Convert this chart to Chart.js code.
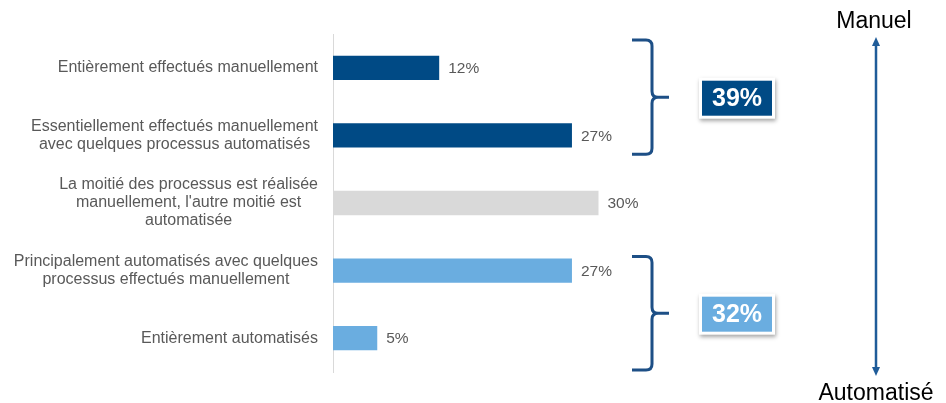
<!DOCTYPE html>
<html lang="fr">
<head>
<meta charset="utf-8">
<title>Degré d'automatisation des processus</title>
<script src="https://cdn.jsdelivr.net/npm/chart.js@4.4.1/dist/chart.umd.min.js"></script>
<style>
  html, body { margin: 0; padding: 0; background: #fff; }
  #wrap { width: 946px; height: 403px; }
</style>
</head>
<body>
<div id="wrap"><canvas id="chart" width="946" height="403"></canvas></div>
<script>
const categories = [
    ['Entièrement effectués manuellement'],
    ['Essentiellement effectués manuellement', 'avec quelques processus automatisés'],
    ['La moitié des processus est réalisée', "manuellement, l'autre moitié est", 'automatisée'],
    ['Principalement automatisés avec quelques', 'processus effectués manuellement'],
    ['Entièrement automatisés']
];
const values = [12, 27, 30, 27, 5];
const groupLabels = ['39%', '32%'];
const groupMembers = [[0, 1], [3, 4]];
const axisEnds = ['Manuel', 'Automatisé'];

const DARK = '#004a85';
const LIGHT = '#6aade0';
const GREY_BAR = '#d9d9d9';
const TEXT = '#595959';
const BRACE = '#1d4f86';
const FONT = '"Liberation Sans", Arial, sans-serif';
const barColors = [DARK, DARK, GREY_BAR, LIGHT, LIGHT];
const groupColors = [DARK, LIGHT];

// curly brace opening to the right, tip at mid
const drawBrace = (ctx, bx, top, bottom, mid) => {
    const r = 6;
    ctx.beginPath();
    ctx.moveTo(bx - 20, top);
    ctx.lineTo(bx - r, top);
    ctx.quadraticCurveTo(bx, top, bx, top + r);
    ctx.lineTo(bx, mid - r);
    ctx.quadraticCurveTo(bx, mid, bx + r, mid);
    ctx.lineTo(bx + 17, mid);
    ctx.moveTo(bx + r, mid);
    ctx.quadraticCurveTo(bx, mid, bx, mid + r);
    ctx.lineTo(bx, bottom - r);
    ctx.quadraticCurveTo(bx, bottom, bx - r, bottom);
    ctx.lineTo(bx - 20, bottom);
    ctx.stroke();
};

const drawBox = (ctx, cx, cy, label, color) => {
    const w = 76, h = 41;
    ctx.save();
    ctx.shadowColor = 'rgba(0,0,0,0.35)';
    ctx.shadowBlur = 4;
    ctx.shadowOffsetX = 1;
    ctx.shadowOffsetY = 2;
    ctx.fillStyle = '#fff';
    ctx.fillRect(cx - w / 2, cy - h / 2, w, h);
    ctx.restore();
    ctx.fillStyle = color;
    ctx.fillRect(cx - w / 2 + 3, cy - h / 2 + 3, w - 6, h - 6);
    ctx.fillStyle = '#fff';
    ctx.font = 'bold 25px ' + FONT;
    ctx.textAlign = 'center';
    ctx.textBaseline = 'middle';
    ctx.fillText(label, cx, cy + 1);
};

const drawHead = (ctx, x, tipY, dir) => {
    ctx.beginPath();
    ctx.moveTo(x, tipY);
    ctx.lineTo(x - 4, tipY + dir * 9);
    ctx.lineTo(x + 4, tipY + dir * 9);
    ctx.closePath();
    ctx.fill();
};

const decorations = {
    id: 'decorations',
    afterDraw(chart) {
        const { ctx, chartArea } = chart;
        const xs = chart.scales.x, ys = chart.scales.y;
        const step = ys.getPixelForValue(1) - ys.getPixelForValue(0);
        ctx.save();

        // category labels: block right-aligned, lines centred
        ctx.font = '16px ' + FONT;
        ctx.fillStyle = TEXT;
        ctx.textAlign = 'center';
        ctx.textBaseline = 'middle';
        const labelRight = chartArea.left - 15;
        categories.forEach((lines, i) => {
            const w = Math.max(...lines.map(l => ctx.measureText(l).width));
            const cy = ys.getPixelForValue(i);
            lines.forEach((l, j) => {
                ctx.fillText(l, labelRight - w / 2, cy + (j - (lines.length - 1) / 2) * 18);
            });
        });

        // value labels
        ctx.font = '15.5px ' + FONT;
        ctx.textAlign = 'left';
        values.forEach((v, i) => {
            ctx.fillText(v + '%', xs.getPixelForValue(v) + 9, ys.getPixelForValue(i) + 1);
        });

        // braces + group totals
        const spans = [[-0.41, 0.28], [-0.21, 0.47]];
        ctx.strokeStyle = BRACE;
        ctx.lineWidth = 3;
        groupMembers.forEach((m, g) => {
            const top = ys.getPixelForValue(m[0]) + spans[g][0] * step;
            const bottom = ys.getPixelForValue(m[m.length - 1]) + spans[g][1] * step;
            const mid = (top + bottom) / 2;
            drawBrace(ctx, 652, top, bottom, mid);
            drawBox(ctx, 737, mid + 1, groupLabels[g], groupColors[g]);
        });

        // Manuel / Automatisé arrow
        const ax = 876, aTop = 37, aBot = 376;
        ctx.strokeStyle = '#1f5c99';
        ctx.fillStyle = '#1f5c99';
        ctx.lineWidth = 2.5;
        ctx.beginPath();
        ctx.moveTo(ax, aTop + 6);
        ctx.lineTo(ax, aBot - 6);
        ctx.stroke();
        drawHead(ctx, ax, aTop, 1);
        drawHead(ctx, ax, aBot, -1);

        ctx.fillStyle = '#000';
        ctx.font = '23px ' + FONT;
        ctx.textAlign = 'center';
        ctx.textBaseline = 'alphabetic';
        ctx.fillText(axisEnds[0], ax - 2, 28);
        ctx.fillText(axisEnds[1], ax, 400);
        ctx.restore();
    }
};

new Chart(document.getElementById('chart'), {
    type: 'bar',
    data: {
        labels: categories,
        datasets: [{
            data: values,
            backgroundColor: barColors,
            barPercentage: 0.36,
            categoryPercentage: 1
        }]
    },
    options: {
        indexAxis: 'y',
        responsive: false,
        animation: false,
        layout: { padding: { top: 34, bottom: 31, right: 259, left: 0 } },
        plugins: { legend: { display: false }, tooltip: { enabled: false } },
        scales: {
            x: { display: false, min: 0, max: 40 },
            y: {
                grid: { display: false, drawTicks: false },
                border: { color: '#d9d9d9', width: 1 },
                ticks: { display: false },
                afterFit(scale) { scale.width = 333; }
            }
        }
    },
    plugins: [decorations]
});
</script>
</body>
</html>
